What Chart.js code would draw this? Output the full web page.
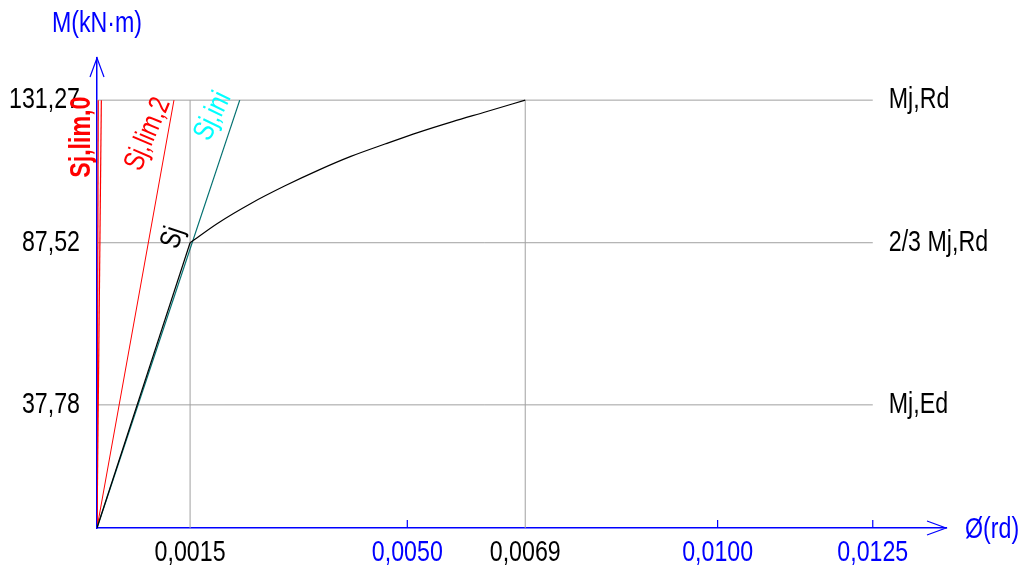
<!DOCTYPE html>
<html>
<head>
<meta charset="utf-8">
<script src="https://cdn.jsdelivr.net/npm/chart.js@4.4.1/dist/chart.umd.min.js"></script>
<style>
  html, body { margin: 0; padding: 0; background: #fff; }
  #wrap { width: 1023px; height: 569px; }
</style>
</head>
<body>
<div id="wrap"><canvas id="momentChart"></canvas></div>
<script>
// moment / rotation values
const MjRd = 131.27;
const MjRd23 = 87.52;
const MjEd = 37.78;
const phiElastic = 0.0015;
const phiRd = 0.0069;

const yTicks = [MjEd, MjRd23, MjRd];
const xTicks = [0.0015, 0.0050, 0.0069, 0.0100, 0.0125];
const xTickBlack = [0.0015, 0.0069];
const xTickMarks = [0.0050, 0.0100, 0.0125];

// stiffness lines, end at Mj,Rd
const limit0Phi = [0.00002, 0.00007];
const limit2Phi = 0.00124;
const iniPhi = 0.00230;

// Sj curve
const curvePhi = [0.0015, 0.00194, 0.00248, 0.00303, 0.00357, 0.00409, 0.00464, 0.00518, 0.00573, 0.00627, 0.0069];
const curveM = [87.52, 93.46, 99.59, 104.99, 109.80, 114.0, 117.8, 121.4, 124.7, 127.7, 131.27];

const FONT = "'Liberation Sans', Arial, sans-serif";
const FSIZE = 29;
const SQUEEZE = 0.8; // narrow look
const BLUE = '#0000ff';
const GRID = '#a0a0a0';

const fmt = v => v.toFixed(v < 1 ? 4 : 2).replace('.', ',');

function seg(x0, y0, x1, y1) {
    return [{x: x0, y: y0}, {x: x1, y: y1}];
}

const datasets = [];
// horizontal guide lines
yTicks.forEach(m => datasets.push({
    data: seg(0, m, 0.0125, m), borderColor: GRID, borderWidth: 1, order: 10
}));
// vertical guide lines
[phiElastic, phiRd].forEach(p => datasets.push({
    data: seg(p, 0, p, MjRd), borderColor: GRID, borderWidth: 1, order: 10
}));
limit0Phi.forEach(p => datasets.push({
    data: seg(0, 0, p, MjRd), borderColor: '#ff0000', borderWidth: 1.2, order: 5
}));
datasets.push({ data: seg(0, 0, limit2Phi, MjRd), borderColor: '#ff0000', borderWidth: 1, order: 5 });
datasets.push({ data: seg(0, 0, iniPhi, MjRd), borderColor: '#007070', borderWidth: 1.2, order: 4 });
datasets.push({ data: seg(0, 0, phiElastic, MjRd23), borderColor: '#000000', borderWidth: 1.2, order: 1 });
datasets.push({
    data: curvePhi.map((p, i) => ({x: p, y: curveM[i]})),
    borderColor: '#000000', borderWidth: 1.2, cubicInterpolationMode: 'monotone', order: 1
});

function text(ctx, str, x, y, opts) {
    opts = opts || {};
    ctx.save();
    ctx.translate(x, y);
    if (opts.angle) ctx.rotate(opts.angle * Math.PI / 180);
    ctx.scale(SQUEEZE, 1);
    ctx.font = (opts.bold ? 'bold ' : '') + FSIZE + 'px ' + FONT;
    ctx.fillStyle = opts.color || '#000';
    ctx.textAlign = opts.align || 'center';
    ctx.textBaseline = 'middle';
    ctx.fillText(str, 0, 0);
    ctx.restore();
}

const decorations = {
    id: 'decorations',
    afterDraw(chart) {
        const {ctx, chartArea: a, scales: {x, y}} = chart;
        ctx.save();
        ctx.strokeStyle = BLUE;
        ctx.lineWidth = 1.2;
        // arrow heads
        ctx.beginPath();
        ctx.moveTo(a.left - 7, a.top + 19); ctx.lineTo(a.left, a.top); ctx.lineTo(a.left + 7, a.top + 19);
        ctx.moveTo(a.right - 19, a.bottom - 7); ctx.lineTo(a.right, a.bottom); ctx.lineTo(a.right - 19, a.bottom + 7);
        // small blue ticks
        xTickMarks.forEach(v => {
            const px = x.getPixelForValue(v);
            ctx.moveTo(px, a.bottom); ctx.lineTo(px, a.bottom - 8);
        });
        ctx.stroke();
        ctx.restore();

        // tick labels from the scales
        x.ticks.forEach(t => {
            text(ctx, fmt(t.value), x.getPixelForValue(t.value), a.bottom + 25,
                {color: xTickBlack.includes(t.value) ? '#000' : BLUE});
        });
        y.ticks.forEach(t => {
            text(ctx, fmt(t.value), a.left - 17, y.getPixelForValue(t.value), {align: 'right'});
        });

        text(ctx, 'M(kN·m)', a.left, 24, {color: BLUE});
        text(ctx, 'Ø(rd)', a.right + 19, a.bottom + 2, {color: BLUE, align: 'left'});

        const rx = x.getPixelForValue(0.0125) + 16;
        text(ctx, 'Mj,Rd', rx, y.getPixelForValue(MjRd), {align: 'left'});
        text(ctx, '2/3 Mj,Rd', rx, y.getPixelForValue(MjRd23), {align: 'left'});
        text(ctx, 'Mj,Ed', rx, y.getPixelForValue(MjEd), {align: 'left'});

        const top = y.getPixelForValue(MjRd);
        text(ctx, 'Sj,lim,0', a.left - 15, top + 37, {angle: -90, color: '#ff0000', bold: true});
        text(ctx, 'Sj,lim,2', a.left + 51, top + 34, {angle: -67, color: '#ff0000'});
        text(ctx, 'Sj,ini', a.left + 116, top + 16, {angle: -64, color: '#00ffff'});
        text(ctx, 'Sj', a.left + 76, y.getPixelForValue(MjRd23) - 5, {angle: -72});
    }
};

new Chart(document.getElementById('momentChart'), {
    type: 'line',
    data: { datasets: datasets },
    options: {
        responsive: true,
        maintainAspectRatio: false,
        animation: false,
        layout: { padding: { left: 0, right: 77, top: 58, bottom: 0 } },
        elements: { point: { radius: 0 }, line: { tension: 0 } },
        plugins: { legend: { display: false }, tooltip: { enabled: false } },
        scales: {
            x: {
                type: 'linear', min: 0, max: 0.01368,
                border: { color: BLUE, width: 1.5 },
                grid: { display: false, drawTicks: false },
                afterBuildTicks: s => { s.ticks = xTicks.map(v => ({value: v})); },
                afterFit: s => { s.height = 41; },
                ticks: { display: false, autoSkip: false }
            },
            y: {
                type: 'linear', min: 0, max: 144.2,
                border: { color: BLUE, width: 1.5 },
                grid: { display: false, drawTicks: false },
                afterBuildTicks: s => { s.ticks = yTicks.map(v => ({value: v})); },
                afterFit: s => { s.width = 97; },
                ticks: { display: false, autoSkip: false }
            }
        }
    },
    plugins: [decorations]
});
</script>
</body>
</html>
